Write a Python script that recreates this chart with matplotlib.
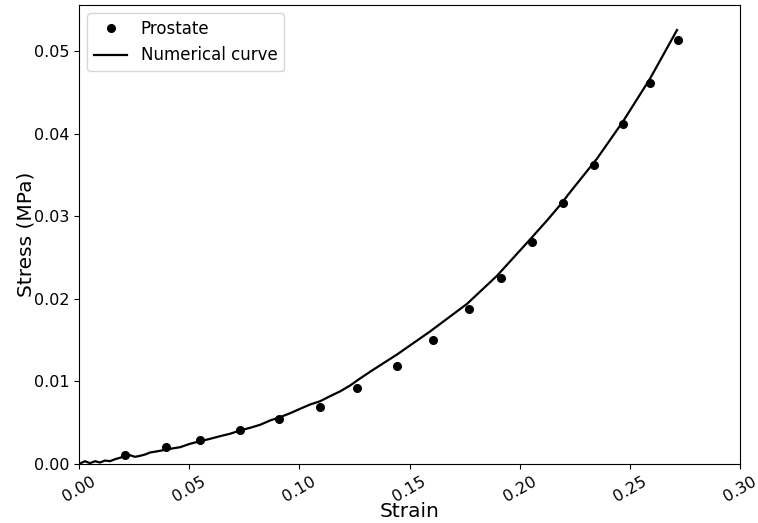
import matplotlib
matplotlib.use("Agg")
import matplotlib.pyplot as plt

# experimental data (prostate)
strain_exp = [0.0209, 0.0395, 0.0549, 0.0731, 0.0908, 0.1094, 0.1263, 0.1443, 0.1605,
              0.1769, 0.1917, 0.2056, 0.2195, 0.2336, 0.2468, 0.2592, 0.2717]
stress_exp = [0.00115, 0.00200, 0.00285, 0.00406, 0.00551, 0.00696, 0.00918, 0.01184, 0.01504,
              0.01879, 0.02254, 0.02694, 0.03157, 0.03622, 0.04114, 0.04610, 0.05136]

# numerical curve
strain_num = [0.0, 0.0027, 0.0050, 0.0073, 0.0095, 0.0118, 0.0141, 0.0163, 0.0186, 0.0209,
              0.0231, 0.0254, 0.0277, 0.0300, 0.0322, 0.0368, 0.0413, 0.0458, 0.0504, 0.0549,
              0.0595, 0.0640, 0.0685, 0.0731, 0.0776, 0.0822, 0.0867, 0.0912, 0.0958, 0.1003,
              0.1048, 0.1094, 0.1139, 0.1185, 0.1230, 0.1275, 0.1334, 0.1443, 0.1593, 0.1761,
              0.1897, 0.2047, 0.2124, 0.2183, 0.2228, 0.2351, 0.2469, 0.2592, 0.2714]
stress_num = [0.0, 0.00034, 0.00010, 0.00034, 0.00018, 0.00042, 0.00034, 0.00058, 0.00075, 0.00099,
              0.00107, 0.00087, 0.00099, 0.00115, 0.00139, 0.00160, 0.00184, 0.00203, 0.00245, 0.00276,
              0.00305, 0.00337, 0.00366, 0.00406, 0.00438, 0.00475, 0.00527, 0.00567, 0.00615, 0.00668,
              0.00720, 0.00760, 0.00821, 0.00880, 0.00950, 0.01035, 0.01140, 0.01326, 0.01605, 0.01940,
              0.02280, 0.02720, 0.02950, 0.03135, 0.03290, 0.03700, 0.04150, 0.04670, 0.05257]

fig = plt.figure(figsize=(7.58, 5.23), dpi=100)
ax = fig.add_axes([0.1042, 0.1128, 0.8721, 0.8776])

ax.plot(strain_exp, stress_exp, "ko", markersize=5.5, label="Prostate")
ax.plot(strain_num, stress_num, "k-", lw=1.6, label="Numerical curve")

ax.set_xlim(0, 0.30)
ax.set_ylim(0, 0.0556)
ax.set_xticks([0.0, 0.05, 0.10, 0.15, 0.20, 0.25, 0.30])
ax.set_yticks([0.0, 0.01, 0.02, 0.03, 0.04, 0.05])
ax.set_xticklabels(["0.00", "0.05", "0.10", "0.15", "0.20", "0.25", "0.30"], rotation=30)
ax.set_yticklabels(["0.00", "0.01", "0.02", "0.03", "0.04", "0.05"])
ax.tick_params(labelsize=11.5)

ax.set_xlabel("Strain", fontsize=14.5, labelpad=-2)
ax.set_ylabel("Stress (MPa)", fontsize=14.5, labelpad=-1)
ax.legend(loc="upper left", fontsize=12)

fig.savefig("out.png", dpi=100)
